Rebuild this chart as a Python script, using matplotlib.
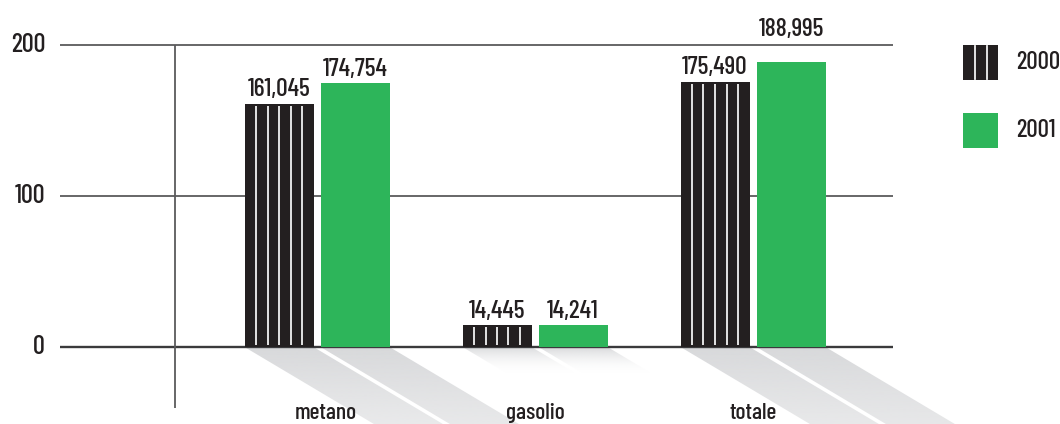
import numpy as np
import matplotlib
matplotlib.use("Agg")
import matplotlib.pyplot as plt
from matplotlib.patches import Rectangle, Polygon
from matplotlib.lines import Line2D

# --- data -------------------------------------------------------------
categories = ["metano", "gasolio", "totale"]
series_names = ["2000", "2001"]
values_2000 = [161.045, 14.445, 175.490]
values_2001 = [174.754, 14.241, 188.995]
value_labels_2000 = ["161,045", "14,445", "175,490"]
value_labels_2001 = ["174,754", "14,241", "188,995"]
y_ticks = [0, 100, 200]

# --- style ------------------------------------------------------------
DARK = "#231f20"
GREEN = "#2db55a"
GRID = "#5a5a5c"
STRIPE = "#f2f2f2"
FONT = ["Barlow Condensed", "DejaVu Sans"]
WEIGHT = 500

W, H, DPI = 1060, 424, 100
fig = plt.figure(figsize=(W / DPI, H / DPI), dpi=DPI)
fig.patch.set_facecolor("white")

# one axes over the whole canvas; data units scaled so that
# 218 px separate the groups and 1.51 px make one unit of height
ax = fig.add_axes([0, 0, 1, 1])
ax.set_facecolor("none")
ax.set_axis_off()

px_y = 1.51
zero_px = 347
group_px = 218
first_centre_px = 317


def dx(px):
    """horizontal pixel position -> data x"""
    return (px - first_centre_px) / group_px


def dy(px):
    """vertical pixel position (from top) -> data y"""
    return (zero_px - px) / px_y


ax.set_xlim(dx(0), dx(W))
ax.set_ylim(dy(H), dy(0))

# horizontal rules and their labels
for t in y_ticks:
    ax.hlines(t, dx(60), dx(893), color=GRID if t else "#3a3a3c",
              lw=1.3 if t else 1.7, zorder=2)
    ax.text(dx(45), t, str(t), ha="right", va="center", fontsize=19,
            color=DARK, family=FONT, fontweight=WEIGHT)

# vertical rule
ax.vlines(dx(175), dy(408), 200, color=GRID, lw=1.3, zorder=2)

bar_w = 69 / group_px
offset = 38 / group_px
x = np.arange(len(categories))

# slanted gradient shadows under each bar
slope = 1.68 * px_y / group_px   # data dx per data dy
grad = np.linspace(0, 1, 256).reshape(-1, 1)
shade = np.array([0xd8, 0xd9, 0xdb]) / 255


def shadow(xl, xr, h):
    L = 1.3 * h
    poly = Polygon([(xl, 0), (xr, 0), (xr + slope * L, -L), (xl + slope * L, -L)],
                   closed=True, facecolor="none", edgecolor="none")
    ax.add_patch(poly)
    rgba = np.zeros((256, 1, 4))
    rgba[..., :3] = shade
    rgba[..., 3] = (1 - grad) ** 2.1
    im = ax.imshow(rgba, extent=[xl, xr + slope * L, -L, 0], origin="upper",
                   aspect="auto", interpolation="bilinear", zorder=1)
    im.set_clip_path(poly)


for i in range(len(categories)):
    for v, off in ((values_2000[i], -offset), (values_2001[i], offset)):
        shadow(x[i] + off - bar_w / 2, x[i] + off + bar_w / 2, v)

# bars
ax.bar(x - offset, values_2000, width=bar_w, color=DARK, zorder=3)
ax.bar(x + offset, values_2001, width=bar_w, color=GREEN, zorder=3)

# white pinstripes on the 2000 bars
for i, v in enumerate(values_2000):
    left = x[i] - offset - bar_w / 2
    for k in range(1, 6):
        xs = left + bar_w * k / 6
        ax.add_line(Line2D([xs, xs], [2 / px_y, v - 2 / px_y], color=STRIPE,
                           lw=1.3, zorder=4, solid_capstyle="butt"))


# value labels: just above the bar, or above the top rule if they would touch it
def label_y(v):
    y = v + 5
    return y if y + 12 < y_ticks[-1] else y_ticks[-1] + 6


for i in range(len(categories)):
    ax.text(x[i] - offset, label_y(values_2000[i]), value_labels_2000[i], ha="center",
            va="baseline", fontsize=18.5, color=DARK, family=FONT, fontweight=WEIGHT,
            zorder=5)
    ax.text(x[i] + offset, label_y(values_2001[i]), value_labels_2001[i], ha="center",
            va="baseline", fontsize=18.5, color=DARK, family=FONT, fontweight=WEIGHT,
            zorder=5)

# category names
for i, c in enumerate(categories):
    ax.text(x[i] + (0.04 if i == 0 else 0), dy(419), c, ha="center", va="baseline",
            fontsize=17, color=DARK, family=FONT, fontweight=WEIGHT, zorder=5)


# legend, in figure pixel coordinates
def fx(p):
    return p / W


def fy(p):
    return 1 - p / H


sq = 35
fig.add_artist(Rectangle((fx(963), fy(45 + sq)), sq / W, sq / H, transform=fig.transFigure,
                         facecolor=DARK, edgecolor="none"))
for lx in (975, 986.5):
    fig.add_artist(Line2D([fx(lx), fx(lx)], [fy(46), fy(79)], transform=fig.transFigure,
                          color=STRIPE, lw=1.3))
fig.add_artist(Rectangle((fx(963), fy(113 + sq)), sq / W, sq / H, transform=fig.transFigure,
                         facecolor=GREEN, edgecolor="none"))
fig.text(fx(1016), fy(62.5), series_names[0], ha="left", va="center", fontsize=18,
         color=DARK, family=FONT, fontweight=WEIGHT)
fig.text(fx(1016), fy(130.5), series_names[1], ha="left", va="center", fontsize=18,
         color=DARK, family=FONT, fontweight=WEIGHT)

fig.savefig("out.png", dpi=DPI)
